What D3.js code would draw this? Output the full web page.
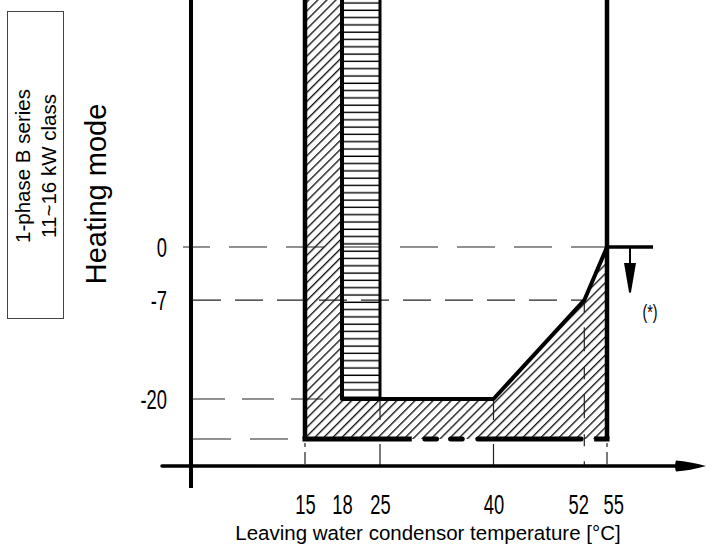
<!DOCTYPE html>
<html>
<head>
<meta charset="utf-8">
<script src="https://cdn.jsdelivr.net/npm/d3@7"></script>
<style>
  body { margin: 0; background: #fff; }
  svg { display: block; }
  .num { font-family: "Liberation Sans", Arial, sans-serif; font-size: 27px; fill: #000; }
  .lbl { font-family: "Liberation Sans", Arial, sans-serif; fill: #000; }
</style>
</head>
<body>
<svg id="chart" width="715" height="552"></svg>
<script>
// values
const xTicks = [15, 18, 25, 40, 52, 55];
const yTicks = [0, -7, -20];
const yFloor = -25;
const yTop = 36;   // the envelope keeps going above the frame

// operating envelope (x = water temp, y = outdoor temp)
const hatchedArea = [[15, yTop], [15, yFloor], [55, yFloor], [55, 0], [52, -7], [40, -20], [18, -20], [18, yTop]];
const boosterArea = [[18, yTop], [18, -20], [25, -20], [25, yTop]];
const innerEdge   = [[18, yTop], [18, -20], [40, -20], [52, -7], [55, 0]];
// bottom edge is broken in a few places
const floorSegments = [[15, 29.2], [30.6, 32.8], [34.0, 36.2], [37.6, 51.9], [53.3, 55]];

// dashed guides
const hGuides = [{v: 0, to: 55}, {v: -7, to: 52}, {v: -20, to: 18}, {v: yFloor, to: 15}];
const vGuides = [{v: 15, from: yFloor}, {v: 25, from: -20}, {v: 40, from: -20}, {v: 52, from: -7}, {v: 55, from: yFloor}];

const svg = d3.select("#chart");

// layout
const axisX = 191, axisY = 466;
const narrow = "scale(0.68,1)"; // drawing uses a narrow font for numbers
const x = d3.scaleLinear().domain([15, 18, 25, 55]).range([305, 342, 380, 607]);
const y = d3.scaleLinear().domain([-25, -20, 0]).range([439, 399, 247]);
const line = d3.line().x(d => x(d[0])).y(d => y(d[1]));

/*******************************************************************************
                                  hatch patterns
*******************************************************************************/
const defs = svg.append("defs");
defs.append("pattern")
    .attr("id", "diag")
    .attr("patternUnits", "userSpaceOnUse")
    .attr("width", 6.4).attr("height", 10)
    .attr("patternTransform", "rotate(45)")
  .append("line")
    .attr("x1", 0.7).attr("y1", 0).attr("x2", 0.7).attr("y2", 10)
    .attr("stroke", "#000").attr("stroke-width", 1.25);

defs.append("pattern")
    .attr("id", "horiz")
    .attr("patternUnits", "userSpaceOnUse")
    .attr("width", 10).attr("height", 7.3)
  .append("line")
    .attr("x1", 0).attr("y1", 3).attr("x2", 10).attr("y2", 3)
    .attr("stroke", "#000").attr("stroke-width", 1.4);

// areas
svg.append("path").attr("d", line(hatchedArea) + "Z").attr("fill", "url(#diag)");
svg.append("path").attr("d", line(boosterArea) + "Z").attr("fill", "#fff");
svg.append("path").attr("d", line(boosterArea) + "Z").attr("fill", "url(#horiz)");

// guide lines (dash pattern differs a bit per line in the drawing)
const hDash = {"0": ["38,19", 11, 183], "-7": ["28,14", 0, 193], "-20": ["32,17", 0, 193], "-25": ["38,19", 0, 193]};
svg.append("g").selectAll("line").data(hGuides).enter()
   .append("line")
   .attr("x1", d => hDash[d.v][2])
   .attr("x2", d => x(d.to))
   .attr("y1", d => y(d.v))
   .attr("y2", d => y(d.v))
   .attr("stroke", "#222")
   .attr("stroke-width", 1.2)
   .attr("stroke-dasharray", d => hDash[d.v][0])
   .attr("stroke-dashoffset", d => hDash[d.v][1]);

svg.append("g").selectAll("line").data(vGuides).enter()
   .append("line")
   .attr("x1", d => x(d.v))
   .attr("x2", d => x(d.v))
   .attr("y1", d => d.from == yFloor ? y(d.from) + 4 : y(d.from))
   .attr("y2", axisY)
   .attr("stroke", "#222")
   .attr("stroke-width", 1.2)
   .attr("stroke-dasharray", d => d.v == 52 ? "12,15,24,16" : (d.from == yFloor ? "4,5,12,20" : "21,24"));

// bold envelope outline
svg.append("path").attr("d", line([[15, yTop], [15, yFloor]]))
   .attr("stroke", "#000").attr("stroke-width", 4.5).attr("fill", "none");
svg.append("path").attr("d", line([[55, yTop], [55, yFloor]]))
   .attr("stroke", "#000").attr("stroke-width", 4.5).attr("fill", "none");
svg.append("path").attr("d", line(innerEdge))
   .attr("stroke", "#000").attr("stroke-width", 4).attr("fill", "none")
   .attr("stroke-linejoin", "round");
svg.append("path").attr("d", line([[25, yTop], [25, -20]]))
   .attr("stroke", "#000").attr("stroke-width", 3).attr("fill", "none");

svg.append("g").selectAll("line").data(floorSegments).enter()
   .append("line")
   .attr("x1", d => x(d[0]) + (d[0] == 15 ? 0 : 2.5))
   .attr("x2", d => x(d[1]) - (d[1] == 55 ? 0 : 2.5))
   .attr("y1", y(yFloor))
   .attr("y2", y(yFloor))
   .attr("stroke", "#000")
   .attr("stroke-width", 5)
   .attr("stroke-linecap", d => (d[0] == 15 || d[1] == 55) ? "square" : "round");

/*******************************************************************************
                                      axes
*******************************************************************************/
svg.append("line")
   .attr("x1", axisX).attr("x2", axisX).attr("y1", 0).attr("y2", 488)
   .attr("stroke", "#000").attr("stroke-width", 4);
svg.append("line")
   .attr("x1", 162).attr("x2", 682).attr("y1", axisY).attr("y2", axisY)
   .attr("stroke", "#000").attr("stroke-width", 3.5).attr("stroke-linecap", "round");
svg.append("path")
   .attr("d", "M676,460.5 Q690,461.5 706,466 Q690,470.5 676,471.5 Q674,466 676,460.5 Z")
   .attr("fill", "#000");

let xAxis = svg.append("g")
   .attr("transform", "translate(0," + 495 + ")")
   .call(d3.axisBottom(x).tickValues(xTicks).tickSize(0).tickPadding(0).tickFormat(d => String(d)));
xAxis.select(".domain").remove();
xAxis.selectAll("text").attr("class", "num").attr("fill", null).attr("dy", "0.72em")
     .attr("x", d => d == 52 ? -9 : (d == 55 ? 9 : 0))
     .attr("transform", narrow);

let yAxis = svg.append("g")
   .attr("transform", "translate(" + 167 + ",0)")
   .call(d3.axisLeft(y).tickValues(yTicks).tickSize(0).tickPadding(0).tickFormat(d => String(d)));
yAxis.select(".domain").remove();
yAxis.selectAll("text").attr("class", "num").attr("fill", null).attr("dy", "0.35em")
     .attr("transform", narrow);

// x axis title
svg.append("text")
   .attr("class", "lbl")
   .attr("x", 428).attr("y", 540)
   .attr("text-anchor", "middle")
   .style("font-size", "20.5px")
   .text("Leaving water condensor temperature [°C]");

// mode title
svg.append("text")
   .attr("class", "lbl")
   .attr("transform", "translate(106,194) rotate(-90)")
   .attr("text-anchor", "middle")
   .style("font-size", "29px")
   .text("Heating mode");

// unit box
svg.append("rect")
   .attr("x", 7.5).attr("y", 11.5).attr("width", 56).attr("height", 307)
   .attr("fill", "none").attr("stroke", "#444").attr("stroke-width", 1);
let boxText = svg.append("text")
   .attr("class", "lbl")
   .attr("transform", "translate(30,166) rotate(-90)")
   .attr("text-anchor", "middle")
   .style("font-size", "20.5px");
boxText.append("tspan").attr("x", 0).attr("dy", 0).text("1-phase B series");
boxText.append("tspan").attr("x", 0).attr("dy", 26).text("11~16 kW class");

/*******************************************************************************
                               (*) limit marker
*******************************************************************************/
let mark = svg.append("g");
mark.append("line")
    .attr("x1", x(55)).attr("x2", x(55) + 46).attr("y1", y(0)).attr("y2", y(0))
    .attr("stroke", "#000").attr("stroke-width", 3.5);
mark.append("line")
    .attr("x1", x(55) + 23).attr("x2", x(55) + 23).attr("y1", y(0)).attr("y2", y(0) + 18)
    .attr("stroke", "#000").attr("stroke-width", 2);
mark.append("path")
    .attr("d", "M" + (x(55) + 17) + "," + (y(0) + 16) + " L" + (x(55) + 29) + "," + (y(0) + 16)
             + " L" + (x(55) + 24) + "," + (y(0) + 45) + " Q" + (x(55) + 23) + "," + (y(0) + 47) + " " + (x(55) + 22) + "," + (y(0) + 45) + " Z")
    .attr("fill", "#000");
mark.append("text")
    .attr("class", "num")
    .attr("transform", "translate(" + (x(55) + 43) + "," + (y(0) + 65) + ") " + narrow)
    .attr("text-anchor", "middle")
    .attr("dy", "0.35em")
    .style("font-size", "21px")
    .text("(*)");
</script>
</body>
</html>
